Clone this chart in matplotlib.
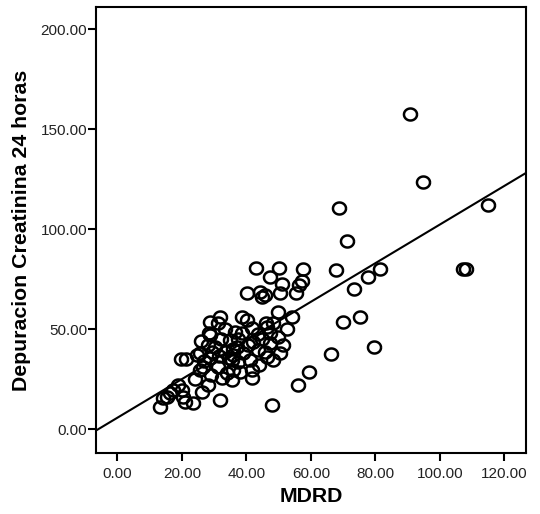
import numpy as np
import matplotlib
matplotlib.use("Agg")
import matplotlib.pyplot as plt

plt.rcParams['font.family'] = ['Liberation Sans', 'DejaVu Sans']

# MDRD vs Depuracion Creatinina 24 horas
mdrd = [90.7, 94.8, 115.0, 68.7, 71.3, 108.0, 107.3, 67.8, 81.4, 57.6,
        57.1, 77.8, 73.4, 75.3, 70.1, 79.5, 66.4, 59.4, 56.1, 47.8,
        43.0, 50.2, 47.3, 56.4, 50.9, 40.1, 44.2, 45.8, 44.8, 50.4,
        55.4, 49.9, 54.3,
        28.7, 31.8, 31.3, 28.5, 34.9, 38.5, 40.1, 48.3, 46.3, 36.5,
        38.5, 41.6, 47.3, 49.9, 51.4, 47.3, 45.8, 50.4, 48.3, 42.1,
        43.7, 37.0, 35.9, 39.0, 37.5, 41.1, 41.6, 38.0, 35.9, 41.6,
        35.4,
        19.6, 21.3, 25.6, 28.2, 30.3, 28.7, 26.6, 25.6, 31.3, 35.4,
        33.9, 32.3, 18.9, 17.3, 19.9, 16.3, 15.3, 20.4, 14.2, 26.1,
        23.5, 21.0, 13.2, 31.8, 28.7, 24.6,
        33.5, 34.5, 31.5, 40.5, 45.0, 43.5, 33.5, 37.5, 29.0, 24.0,
        28.0, 46.0, 52.5, 29.5, 27.0, 44.0, 46.5, 36.0, 32.0, 26.0]
depuracion = [157.6, 123.6, 112.2, 110.7, 94.0, 80.0, 80.3, 79.6, 80.2, 80.2,
              74.0, 76.0, 70.0, 56.4, 53.5, 41.0, 37.7, 28.5, 22.2, 12.2,
              80.5, 80.5, 76.3, 72.2, 72.5, 68.3, 68.8, 67.2, 66.2, 68.3,
              68.3, 58.8, 56.3,
              53.8, 56.3, 53.0, 48.0, 44.7, 56.3, 54.7, 53.0, 51.3, 48.8,
              48.0, 50.5, 48.0, 46.3, 42.2, 43.0, 38.8, 38.0, 34.7, 43.8,
              39.7, 41.3, 37.2, 38.0, 33.8, 34.7, 29.7, 28.8, 29.7, 25.5,
              24.7,
              35.2, 35.2, 38.0, 42.2, 41.3, 35.5, 31.3, 29.7, 31.3, 34.7,
              28.0, 25.5, 22.2, 19.7, 19.7, 18.0, 16.3, 16.3, 15.5, 18.8,
              13.0, 13.8, 11.3, 14.7, 47.2, 37.2,
              38.5, 35.5, 36.5, 42.0, 45.0, 47.5, 50.0, 45.0, 27.0, 25.0,
              22.0, 53.0, 50.0, 38.5, 34.0, 32.0, 36.0, 40.0, 45.0, 44.0]

# linear fit line
fit_intercept = 5.8
fit_slope = 0.966

x_ticks = [0, 20, 40, 60, 80, 100, 120]
y_ticks = [0, 50, 100, 150, 200]

fig = plt.figure(figsize=(5.4, 5.14), dpi=100)
ax = fig.add_axes([0.1785, 0.118, 0.7955, 0.8685])

# slightly flattened open circle, like the SPSS marker
t = np.linspace(0, 2 * np.pi, 60)
ellipse = np.column_stack([np.cos(t), 0.92 * np.sin(t)])

ax.plot(mdrd, depuracion, linestyle='none', marker=ellipse, markersize=9.4,
        markerfacecolor='none', markeredgecolor='black', markeredgewidth=1.8)

xlim = (-6.5, 126.7)
xs = np.array(xlim)
ax.plot(xs, fit_intercept + fit_slope * xs, color='black', linewidth=1.5)

ax.set_xlim(*xlim)
ax.set_ylim(-12.0, 211.2)
ax.set_xticks(x_ticks)
ax.set_yticks(y_ticks)
ax.set_xticklabels(['%.2f' % v for v in x_ticks])
ax.set_yticklabels(['%.2f' % v for v in y_ticks])
ax.tick_params(direction='out', length=6, width=1.5, labelsize=11,
               colors='black', labelcolor='#222222')
ax.tick_params(axis='y', pad=0.5)
ax.tick_params(axis='x', pad=3.5)

for sp in ax.spines.values():
    sp.set_linewidth(1.5)
    sp.set_color('black')

ax.set_xlabel('MDRD', fontsize=15.3, fontweight='bold', labelpad=5)
ax.set_ylabel('Depuracion Creatinina 24 horas', fontsize=15.3,
              fontweight='bold', labelpad=7)

fig.savefig('out.png', dpi=100)
